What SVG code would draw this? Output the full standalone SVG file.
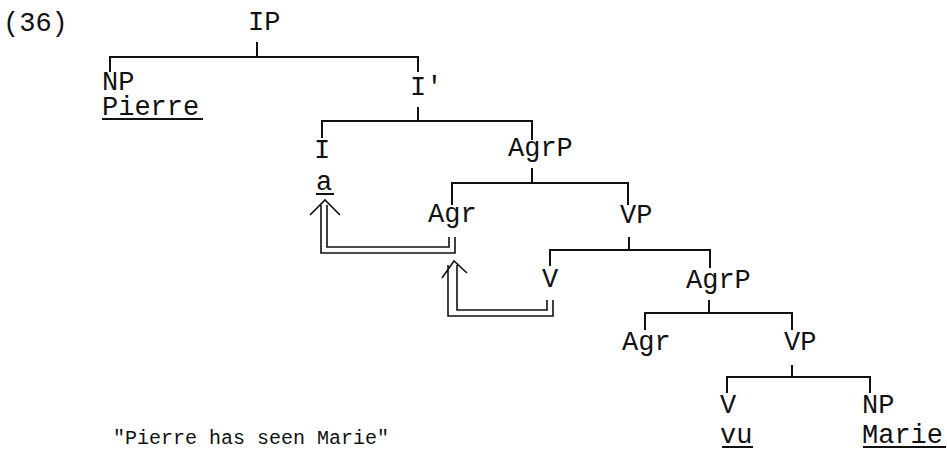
<svg xmlns="http://www.w3.org/2000/svg" width="947" height="451" viewBox="0 0 947 451">
<style>
text{font-family:"Liberation Mono","DejaVu Sans Mono",monospace;font-size:27px;fill:#111}
.small{font-size:20px}
.e{fill:none;stroke:#111;stroke-width:2}
.m{fill:none;stroke:#111;stroke-width:1.6}
.u{stroke:#111;stroke-width:2}
</style>
<rect width="947" height="451" fill="#fff"/>
<text x="3" y="31">(36)</text>
<g id="connectors">
<path class="e" d="M257 42V57M110 72V57H418V72"/>
<path class="e" d="M418 107V121M322 138V121H532V140"/>
<path class="e" d="M532 168V183M452 205V183H628V205"/>
<path class="e" d="M629 237V250M550 266V250H710V268"/>
<path class="e" d="M709 300V313M645 330V313H792V330"/>
<path class="e" d="M792 365V377M727 393V377H870V393"/>
<path class="m" d="M321 205V253H455V237M327 205V247H449V237M310 215L325 200L340 215"/>
<path class="m" d="M448 265V316H553V300M457 265V310H547V300M442 278L454 261L467 273"/>
</g>
<g id="n-IP"><text x="248" y="30">IP</text></g>
<g id="n-NP1"><text x="102" y="90">NP</text></g>
<g id="n-Pierre"><text x="102" y="115">Pierre</text><line class="u" x1="102" y1="119" x2="203" y2="119"/></g>
<g id="n-Ibar"><text x="410" y="95">I′</text></g>
<g id="n-I"><text x="314" y="158">I</text></g>
<g id="n-a"><text x="316" y="190">a</text><line class="u" x1="316" y1="194" x2="334" y2="194"/></g>
<g id="n-AgrP1"><text x="508" y="156">AgrP</text></g>
<g id="n-Agr1"><text x="428" y="222">Agr</text></g>
<g id="n-VP1"><text x="620" y="223">VP</text></g>
<g id="n-V1"><text x="542" y="287">V</text></g>
<g id="n-AgrP2"><text x="686" y="288">AgrP</text></g>
<g id="n-Agr2"><text x="622" y="350">Agr</text></g>
<g id="n-VP2"><text x="784" y="350">VP</text></g>
<g id="n-V2"><text x="720" y="413">V</text></g>
<g id="n-NP2"><text x="862" y="413">NP</text></g>
<g id="n-vu"><text x="720" y="443">vu</text><line class="u" x1="722" y1="447" x2="753" y2="447"/></g>
<g id="n-Marie"><text x="862" y="443">Marie</text><line class="u" x1="863" y1="447" x2="946" y2="447"/></g>
<text class="small" x="113" y="444">"Pierre has seen Marie"</text>
</svg>
